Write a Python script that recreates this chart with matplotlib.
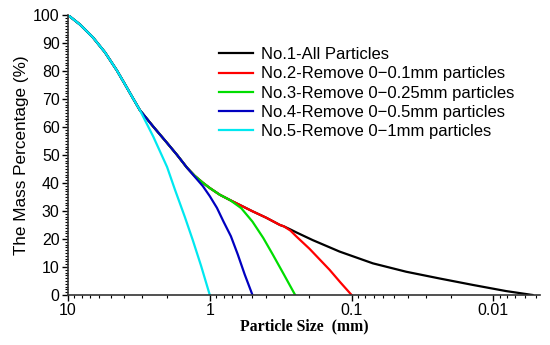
import matplotlib
matplotlib.use("Agg")
import matplotlib.pyplot as plt
from matplotlib import ticker

# particle size (mm) and cumulative mass percentage
size_1 = [10, 8.23, 6.67, 5.49, 4.52, 3.97, 3.54, 3.11, 2.5, 2.0, 1.7, 1.45, 1.28, 1.12,
          1.0, 0.85, 0.72, 0.6, 0.5, 0.4, 0.32, 0.3, 0.27, 0.244, 0.188, 0.1215, 0.0708,
          0.0412, 0.024, 0.014, 0.00815, 0.0053]
pct_1 = [100, 96.6, 92.0, 86.7, 80.2, 75.3, 70.9, 66.0, 60.1, 54.3, 50.0, 45.5, 42.6, 40.1,
         38.2, 35.8, 33.9, 31.9, 29.9, 27.6, 25.0, 24.5, 23.4, 22.3, 19.6, 15.5, 11.3,
         8.3, 5.9, 3.6, 1.4, 0]

size_2 = [10, 8.23, 6.67, 5.49, 4.52, 3.97, 3.54, 3.11, 2.5, 2.0, 1.7, 1.45, 1.28, 1.12,
          1.0, 0.85, 0.72, 0.6, 0.5, 0.4, 0.32, 0.3, 0.27, 0.244, 0.198, 0.143, 0.12, 0.1]
pct_2 = [100, 96.6, 92.0, 86.7, 80.2, 75.3, 70.9, 66.0, 60.1, 54.3, 50.0, 45.5, 42.6, 40.1,
         38.2, 35.8, 33.9, 31.9, 29.9, 27.6, 25.0, 24.5, 23.0, 20.8, 16.5, 9.0, 4.5, 0]

size_3 = [10, 8.23, 6.67, 5.49, 4.52, 3.97, 3.54, 3.11, 2.5, 2.0, 1.7, 1.45, 1.28, 1.12,
          1.0, 0.85, 0.72, 0.6, 0.5, 0.42, 0.36, 0.3, 0.25]
pct_3 = [100, 96.6, 92.0, 86.7, 80.2, 75.3, 70.9, 66.0, 60.1, 54.3, 50.0, 45.5, 42.6, 40.1,
         38.2, 35.8, 33.9, 31.0, 26.2, 20.4, 14.5, 7.3, 0]

size_4 = [10, 8.23, 6.67, 5.49, 4.52, 3.97, 3.54, 3.11, 2.5, 2.0, 1.7, 1.45, 1.28, 1.12,
          1.0, 0.89, 0.8, 0.71, 0.635, 0.567, 0.5]
pct_4 = [100, 96.6, 92.0, 86.7, 80.2, 75.3, 70.9, 66.0, 60.1, 54.3, 50.0, 45.5, 42.3, 38.9,
         35.3, 31.1, 26.2, 21.0, 14.5, 7.3, 0]

size_5 = [10, 8.23, 6.67, 5.49, 4.52, 3.97, 3.54, 3.11, 2.5, 2.0, 1.76, 1.5, 1.32, 1.15, 1.0]
pct_5 = [100, 96.6, 92.0, 86.7, 80.2, 75.3, 70.9, 66.0, 56.5, 45.7, 37.6, 27.9, 19.7, 10.3, 0]

labels = ["No.1-All Particles",
          "No.2-Remove 0\u22120.1mm particles",
          "No.3-Remove 0\u22120.25mm particles",
          "No.4-Remove 0\u22120.5mm particles",
          "No.5-Remove 0\u22121mm particles"]
colors = ["#000000", "#ff0000", "#00dd00", "#0000c0", "#00e8f0"]

plt.rcParams["font.family"] = ["Liberation Sans", "DejaVu Sans"]

fig = plt.figure(figsize=(5.5, 3.45), dpi=100)
ax = fig.add_axes([0.1236, 0.145, 0.858, 0.8115])

series = [(size_1, pct_1), (size_2, pct_2), (size_3, pct_3), (size_4, pct_4), (size_5, pct_5)]
for (xs, ys), lab, col in zip(series, labels, colors):
    ax.plot(xs, ys, color=col, lw=1.6, label=lab, solid_joinstyle="round")

ax.set_xscale("log")
ax.set_xlim(10, 0.0047)
ax.set_ylim(0, 100)
ax.xaxis.set_major_locator(ticker.FixedLocator([10, 1, 0.1, 0.01]))
ax.xaxis.set_major_formatter(ticker.FuncFormatter(lambda v, _: f"{v:g}"))
ax.xaxis.set_minor_locator(ticker.LogLocator(base=10, subs=range(2, 10), numticks=20))
ax.xaxis.set_minor_formatter(ticker.NullFormatter())
ax.yaxis.set_major_locator(ticker.MultipleLocator(10))
ax.yaxis.set_minor_locator(ticker.MultipleLocator(1))

for side in ("top", "right"):
    ax.spines[side].set_visible(False)
for side in ("left", "bottom"):
    ax.spines[side].set_linewidth(1.2)
    ax.spines[side].set_color("#333333")
ax.tick_params(which="major", direction="out", length=4, width=1, labelsize=11.5, pad=2)
ax.tick_params(which="minor", direction="out", length=2.5, width=0.8)

ax.set_ylabel("The Mass Percentage (%)", fontsize=12.3, labelpad=3)
ax.set_xlabel("Particle Size  (mm)", fontsize=11.3, fontweight="bold",
              family=["Liberation Serif", "DejaVu Serif"], labelpad=0)

ax.legend(loc="upper left", bbox_to_anchor=(0.32, 0.885), frameon=False, fontsize=12,
          handlelength=2.05, handletextpad=0.45, labelspacing=0.25, borderpad=0,
          borderaxespad=0)

fig.savefig("out.png", dpi=100)
